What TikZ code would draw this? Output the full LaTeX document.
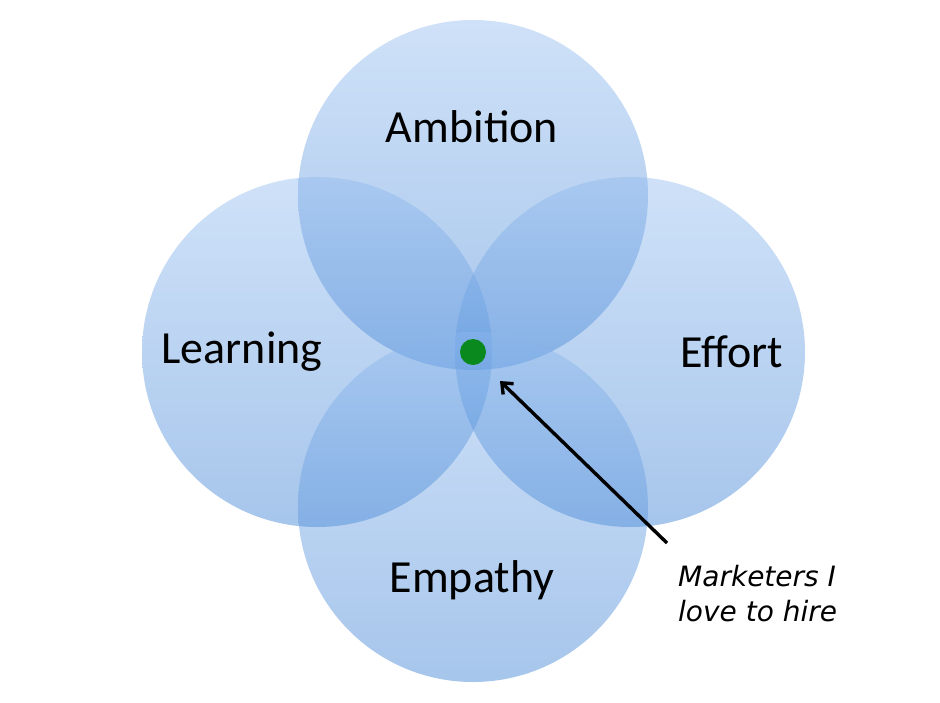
\documentclass[tikz,border=0pt]{standalone}
\usepackage{fontspec}
\setmainfont{Carlito}
\newfontfamily\notefont{DejaVu Sans}
\usepackage{xcolor}
\usepackage{tikz}
\usetikzlibrary{arrows.meta, positioning}
\definecolor{vennTop}{RGB}{140,184,238}
\definecolor{vennBottom}{RGB}{44,118,208}
\definecolor{dotGreen}{HTML}{0A8A1E}

\tikzset{
  venn/.style={circle, minimum size=350pt, inner sep=0pt,
               top color=vennTop, bottom color=vennBottom, fill opacity=0.42},
  vennlabel/.style={font=\fontsize{46}{50}\selectfont, text=black}
}

\begin{document}
\begin{tikzpicture}[x=1pt, y=-1pt]
    \useasboundingbox (0,0) rectangle (940,702);

    % the four circles
    \node[venn] (ambition) at (473,195) {};
    \node[venn] (learning) at (317,352) {};
    \node[venn] (effort)   at (630,352) {};
    \node[venn] (empathy)  at (473,507) {};

    % labels
    \node[vennlabel] at (472,127) {Ambition};
    \node[vennlabel] at (242,352) {Learning};
    \node[vennlabel] at (732,352) {Effort};
    \node[vennlabel] at (472,580) {Empathy};

    % sweet spot
    \node[circle, fill=dotGreen, minimum size=26pt, inner sep=0pt] (spot) at (473,352) {};

    \node[anchor=north west, inner sep=0pt, align=left,
          font=\notefont\itshape\fontsize{28}{35}\selectfont] (note) at (678,565)
          {Marketers I\\love to hire};
    \coordinate (tail) at (667,543);
    \coordinate (tip) at (500,381);
    \draw[line width=3.4pt, -{Straight Barb[length=9pt, width=15pt]}] (tail) -- (tip);
\end{tikzpicture}
\end{document}
